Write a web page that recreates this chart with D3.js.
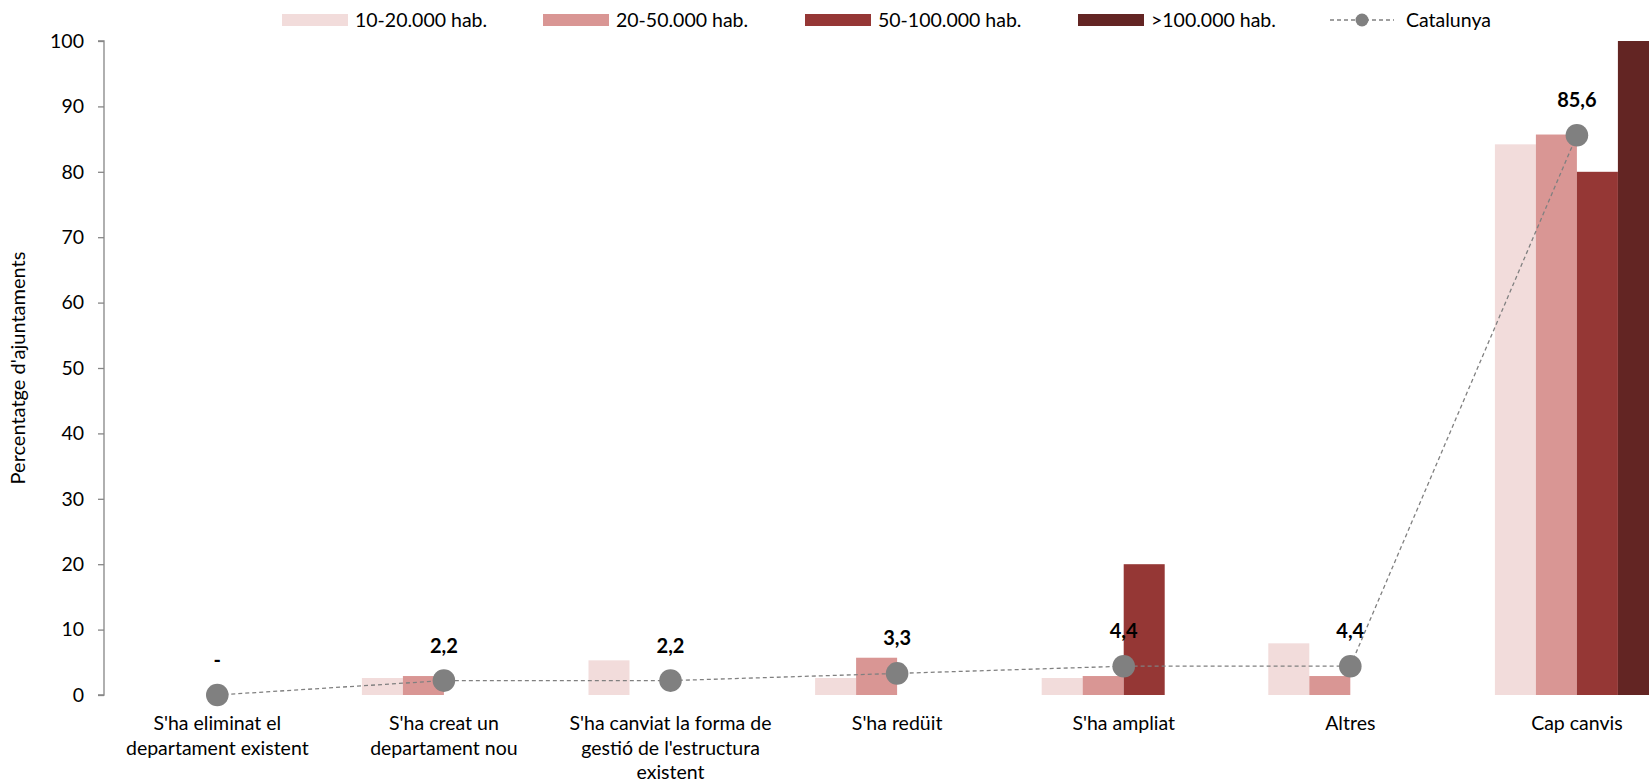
<!DOCTYPE html>
<html>
<head>
<meta charset="utf-8">
<script src="https://cdn.jsdelivr.net/npm/d3@7"></script>
<style>
  html, body { margin: 0; padding: 0; background: #fff; }
  svg { display: block; font-family: Lato, "Open Sans", sans-serif; }
</style>
</head>
<body>
<svg id="chart" width="1649" height="784"></svg>
<script>
const categories = [
  "S'ha eliminat el\ndepartament existent",
  "S'ha creat un\ndepartament nou",
  "S'ha canviat la forma de\ngestió de l'estructura\nexistent",
  "S'ha redüit",
  "S'ha ampliat",
  "Altres",
  "Cap canvis"
];
const seriesNames = ["10-20.000 hab.", "20-50.000 hab.", "50-100.000 hab.", ">100.000 hab."];
const values10_20  = [0, 2.6, 5.3, 2.6, 2.6, 7.9, 84.2];
const values20_50  = [0, 2.9, 0, 5.7, 2.9, 2.9, 85.7];
const values50_100 = [0, 0, 0, 0, 20, 0, 80];
const values100    = [0, 0, 0, 0, 0, 0, 100];
const lineName = "Catalunya";
const catalunya = [0, 2.2, 2.2, 3.3, 4.4, 4.4, 85.6];
const yTicks = [0, 10, 20, 30, 40, 50, 60, 70, 80, 90, 100];
const yTitle = "Percentatge d'ajuntaments";

const colors = ["#F2DCDB", "#D99694", "#953735", "#632523"];
const seriesValues = [values10_20, values20_50, values50_100, values100];

const svg = d3.select("#chart");
const mLeft = 104, mTop = 41, mBottom = 695;
const band = 226.6;
const fs = 19.5;

const x = d3.scaleBand().domain(categories).range([mLeft, mLeft + band * categories.length]).padding(0);
const y = d3.scaleLinear().domain([0, 100]).range([mBottom, mTop]);
const x1 = d3.scaleBand().domain(seriesNames)
  .range([x.bandwidth() * 0.1381, x.bandwidth() * 0.8619]).padding(0);

// bars
seriesNames.forEach((s, si) => {
  svg.append("g").selectAll("rect")
    .data(categories.map((c, i) => ({c, v: seriesValues[si][i]})))
    .join("rect")
    .attr("x", d => x(d.c) + x1(s))
    .attr("y", d => y(d.v))
    .attr("width", x1.bandwidth())
    .attr("height", d => y(0) - y(d.v))
    .attr("fill", colors[si]);
});

// y axis
const yAxis = d3.axisLeft(y).tickValues(yTicks).tickSize(6).tickPadding(14).tickFormat(d3.format("d"));
const gy = svg.append("g").attr("transform", `translate(${mLeft},0)`).call(yAxis);
gy.select(".domain").attr("stroke", "#868686").attr("stroke-width", 1.3).attr("d", `M-6,${mTop}H0V${mBottom}H-6`);
gy.selectAll(".tick line").attr("stroke", "#868686").attr("stroke-width", 1.3);
gy.selectAll(".tick text").attr("font-size", fs).attr("fill", "#000").attr("font-family", "Lato, sans-serif");

// y title
svg.append("text")
  .attr("transform", `translate(25,${(mTop + mBottom) / 2}) rotate(-90)`)
  .attr("text-anchor", "middle")
  .attr("font-size", 20)
  .attr("fill", "#000")
  .text(yTitle);

// category labels
const catG = svg.append("g");
categories.forEach(c => {
  const lines = c.split("\n");
  const t = catG.append("text")
    .attr("text-anchor", "middle")
    .attr("font-size", fs)
    .attr("fill", "#000");
  lines.forEach((ln, li) => {
    t.append("tspan")
      .attr("x", x(c) + x.bandwidth() / 2)
      .attr("y", 730 + li * 24.5)
      .text(ln);
  });
});

// Catalunya line
const cx = c => x(c) + x.bandwidth() / 2;
const pts = categories.map((c, i) => ({c, v: catalunya[i]}));
svg.append("path")
  .datum(pts)
  .attr("fill", "none")
  .attr("stroke", "#808080")
  .attr("stroke-width", 1.3)
  .attr("stroke-dasharray", "4,3")
  .attr("d", d3.line().x(d => cx(d.c)).y(d => y(d.v)));

svg.append("g").selectAll("circle")
  .data(pts).join("circle")
  .attr("cx", d => cx(d.c))
  .attr("cy", d => y(d.v))
  .attr("r", 11.3)
  .attr("fill", "#808080");

svg.append("g").selectAll("text")
  .data(pts).join("text")
  .attr("x", d => cx(d.c))
  .attr("y", d => y(d.v) - 28)
  .attr("text-anchor", "middle")
  .attr("font-size", 20)
  .attr("font-weight", "bold")
  .attr("fill", "#000")
  .text(d => d.v === 0 ? "-" : d3.format(".1f")(d.v).replace(".", ","));

// legend
const legY = 20;
const legX = [282, 543, 805, 1078];
const lg = svg.append("g");
seriesNames.forEach((s, i) => {
  lg.append("rect").attr("x", legX[i]).attr("y", legY - 6).attr("width", 66).attr("height", 12).attr("fill", colors[i]);
  lg.append("text").attr("x", legX[i] + 73).attr("y", legY).attr("dy", "0.35em")
    .attr("font-size", fs).attr("fill", "#000").text(s);
});
lg.append("line").attr("x1", 1330).attr("x2", 1394).attr("y1", legY).attr("y2", legY)
  .attr("stroke", "#808080").attr("stroke-width", 1.3).attr("stroke-dasharray", "4,3");
lg.append("circle").attr("cx", 1362).attr("cy", legY).attr("r", 6.5).attr("fill", "#808080");
lg.append("text").attr("x", 1406).attr("y", legY).attr("dy", "0.35em")
  .attr("font-size", fs).attr("fill", "#000").text(lineName);
</script>
</body>
</html>
